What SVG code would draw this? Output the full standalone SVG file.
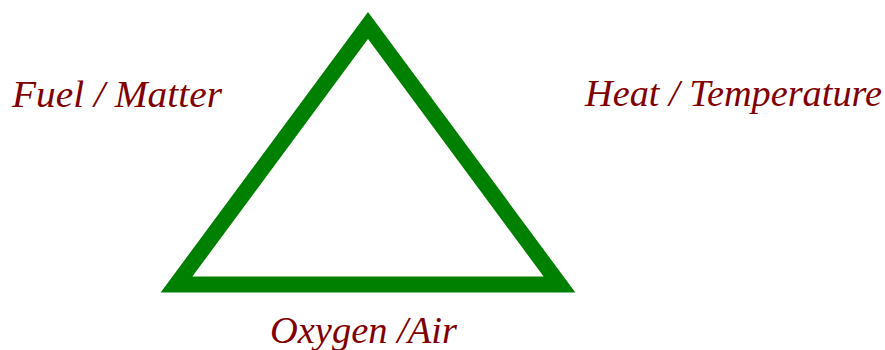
<svg xmlns="http://www.w3.org/2000/svg" width="885" height="350" viewBox="0 0 885 350">
<style>
.lbl{font-family:"Liberation Serif","Times New Roman",serif;font-style:italic;font-size:38px;fill:#800000}
.tri{fill:none;stroke:#008000;stroke-width:16;stroke-linejoin:miter;stroke-miterlimit:10}
</style>
<rect width="885" height="350" fill="#ffffff"/>
<g id="triangle">
<polygon class="tri" points="368,25.5 176.5,284.5 559.5,284.5"/>
</g>
<g id="fuel">
<text class="lbl" x="12" y="107" textLength="210" lengthAdjust="spacingAndGlyphs">Fuel / Matter</text>
</g>
<g id="heat">
<text class="lbl" x="585" y="106" textLength="297" lengthAdjust="spacingAndGlyphs">Heat / Temperature</text>
</g>
<g id="oxygen">
<text class="lbl" x="270" y="343" textLength="187" lengthAdjust="spacingAndGlyphs">Oxygen /Air</text>
</g>
<g id="connectors"></g>
</svg>
